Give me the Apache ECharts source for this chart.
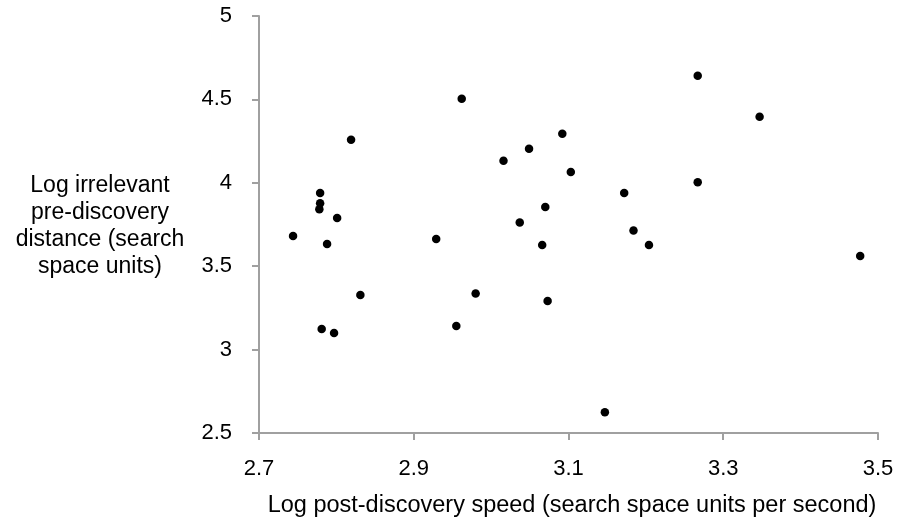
<!DOCTYPE html>
<html>
<head>
<meta charset="utf-8">
<script src="https://cdn.jsdelivr.net/npm/echarts@6/dist/echarts.min.js"></script>
<style>
html,body{margin:0;padding:0;background:#fff;}
#chart{width:897px;height:522px;}
</style>
</head>
<body>
<div id="chart"></div>
<script>
// Log post-discovery speed (x) and Log irrelevant pre-discovery distance (y)
const speed = [2.962, 2.819, 3.016, 3.049, 3.092, 3.103, 2.779, 2.779, 2.778, 2.801,
               3.070, 3.037, 3.267, 3.347, 3.172, 3.267, 2.744, 2.788, 2.929, 3.066,
               2.831, 2.980, 3.073, 2.781, 2.797, 2.955, 3.184, 3.204, 3.477, 3.147];
const distance = [4.504, 4.258, 4.132, 4.204, 4.294, 4.065, 3.939, 3.878, 3.842, 3.789,
                  3.855, 3.762, 4.642, 4.396, 3.939, 4.004, 3.681, 3.633, 3.663, 3.627,
                  3.327, 3.336, 3.291, 3.123, 3.099, 3.141, 3.714, 3.627, 3.561, 2.625];
const xTicks = {min: 2.7, max: 3.5, interval: 0.2};
const yTicks = {min: 2.5, max: 5, interval: 0.5};
const xTitle = 'Log post-discovery speed (search space units per second)';
const yTitleLines = ['Log irrelevant', 'pre-discovery', 'distance (search', 'space units)'];

const points = speed.map((v, i) => [v, distance[i]]);
const axisGray = '#a0a0a0';
const font = '"Liberation Sans", Arial, sans-serif';

const chart = echarts.init(document.getElementById('chart'), null, {renderer: 'canvas'});
chart.setOption({
  animation: false,
  backgroundColor: '#ffffff',
  grid: {left: 259, right: 19, top: 16, bottom: 89, containLabel: false},
  xAxis: {
    type: 'value',
    min: xTicks.min, max: xTicks.max, interval: xTicks.interval,
    axisLine: {show: true, onZero: false, lineStyle: {color: axisGray, width: 2}},
    axisTick: {show: true, length: 7, lineStyle: {color: axisGray, width: 2}},
    splitLine: {show: false},
    axisLabel: {
      color: '#000', fontSize: 22, fontFamily: font, margin: 25,
      formatter: v => v.toFixed(1)
    }
  },
  yAxis: {
    type: 'value',
    min: yTicks.min, max: yTicks.max, interval: yTicks.interval,
    axisLine: {show: true, lineStyle: {color: axisGray, width: 2}},
    axisTick: {show: true, length: 7, lineStyle: {color: axisGray, width: 2}},
    splitLine: {show: false},
    axisLabel: {
      color: '#000', fontSize: 22, fontFamily: font, margin: 27,
      formatter: v => (Math.round(v * 10) / 10).toString()
    }
  },
  graphic: [
    {
      type: 'text',
      x: 572, y: 506,
      style: {
        text: xTitle, fill: '#000', fontSize: 23.5, fontFamily: font,
        align: 'center', verticalAlign: 'middle'
      }
    },
    {
      type: 'text',
      x: 100, y: 226,
      style: {
        text: yTitleLines.join('\n'), fill: '#000', fontSize: 23, fontFamily: font,
        lineHeight: 27, align: 'center', verticalAlign: 'middle'
      }
    }
  ],
  series: [{
    type: 'scatter',
    data: points,
    symbol: 'circle',
    symbolSize: 8.5,
    itemStyle: {color: '#000', opacity: 1}
  }]
});
</script>
</body>
</html>
